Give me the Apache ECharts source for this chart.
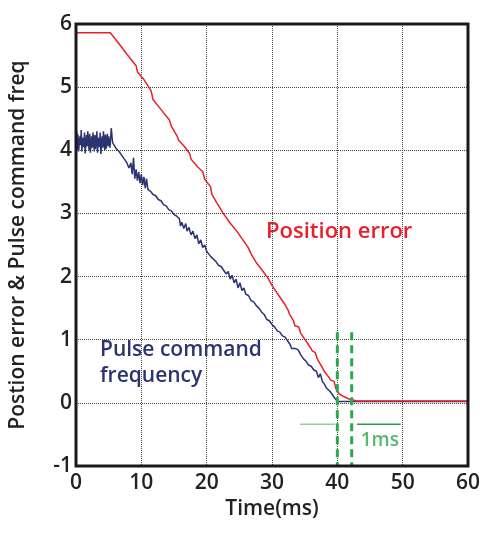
<!DOCTYPE html>
<html><head><meta charset="utf-8">
<script src="https://cdn.jsdelivr.net/npm/echarts@6/dist/echarts.min.js"></script>
<style>html,body{margin:0;padding:0;background:#fff}#c{width:483px;height:542px}</style>
</head><body><div id="c"></div>
<script>
var xTicks = [0, 10, 20, 30, 40, 50, 60];
var yTicks = [-1, 0, 1, 2, 3, 4, 5, 6];
var positionError = [
  [0,5.86],[5.25,5.86],[6.5,5.70],[7.8,5.52],[9.2,5.34],[9.4,5.24],[10.4,5.12],[11.5,4.94],[11.8,4.80],
  [12.9,4.66],[14.3,4.48],[14.6,4.38],[15.5,4.22],[15.7,4.16],[16.6,4.06],[17.4,3.95],[17.6,3.86],
  [18.6,3.74],[19.4,3.66],[19.7,3.54],[20.6,3.42],[20.8,3.30],[21.6,3.16],[22.2,3.06],[22.4,3.02],
  [23.5,2.86],[24.6,2.72],[25.4,2.60],[26.3,2.47],[26.9,2.34],[27.6,2.22],[28.5,2.10],[29.3,1.99],
  [30.0,1.86],[30.9,1.72],[31.9,1.57],[32.5,1.46],[32.7,1.40],[33.3,1.30],[33.5,1.22],[34.1,1.20],
  [34.4,1.10],[35.0,1.01],[35.6,0.92],[36.2,0.82],[36.6,0.80],[37.0,0.68],[37.6,0.58],[38.0,0.50],
  [38.6,0.42],[39.0,0.36],[39.5,0.34],[39.8,0.22],[40.3,0.14],[41.0,0.10],[41.8,0.06],[43.0,0.03],[60,0.03]
];
var pulseFreq = [
  [0,4.12],[0.1,4.30],[0.2,4.00],[0.3,4.25],[0.4,3.98],[0.6,4.22],[0.7,4.08],[0.8,4.32],[0.9,3.98],[1.0,4.20],
  [1.2,4.05],[1.3,4.28],[1.4,3.95],[1.6,4.24],[1.7,4.06],[1.8,4.30],[2.0,4.00],[2.1,4.26],[2.2,3.96],[2.4,4.22],
  [2.5,4.04],[2.6,4.28],[2.8,3.98],[2.9,4.24],[3.0,4.02],[3.2,4.30],[3.3,3.96],[3.4,4.20],[3.6,4.05],[3.7,4.28],
  [3.8,3.94],[4.0,4.22],[4.1,4.04],[4.2,4.30],[4.4,4.00],[4.5,4.25],[4.6,4.02],[4.8,4.26],[4.9,4.06],[5.0,4.22],
  [5.2,4.04],[5.4,4.35],[5.6,4.12],
  [5.8,4.10],[6.2,4.02],[6.6,3.98],[7.0,3.92],[7.4,3.86],[7.8,3.80],[8.1,3.72],[8.4,3.80],[8.6,3.62],[8.8,3.88],
  [9.0,3.55],[9.2,3.70],[9.4,3.52],[9.6,3.66],[9.8,3.48],[10.0,3.62],[10.2,3.45],[10.4,3.58],[10.6,3.40],[10.8,3.55],
  [11.0,3.38],[11.4,3.35],[11.8,3.30],[12.2,3.28],[12.6,3.22],[13.0,3.20],[13.4,3.14],[13.8,3.12],[14.2,3.06],
  [14.6,3.04],[15.0,2.98],[15.4,2.96],[15.8,2.92],[16.0,2.80],[16.2,2.86],[16.5,2.76],[16.8,2.84],[17.0,2.72],
  [17.3,2.78],[17.6,2.66],[17.9,2.72],[18.2,2.60],[18.5,2.66],[18.8,2.52],[19.1,2.58],[19.4,2.46],[19.7,2.50],
  [20.0,2.40],[20.3,2.36],[20.6,2.32],[21.0,2.28],[21.4,2.24],[21.8,2.18],[22.2,2.16],[22.6,2.10],[23.0,2.04],
  [23.3,2.08],[23.6,1.96],[23.9,2.02],[24.2,1.90],[24.5,1.96],[24.8,1.82],[25.1,1.90],[25.4,1.78],[25.7,1.82],
  [26.0,1.72],[26.4,1.70],[26.8,1.62],[27.2,1.60],[27.6,1.54],[28.0,1.50],[28.4,1.44],[28.8,1.40],[29.2,1.32],
  [29.6,1.30],[30.0,1.24],[30.4,1.20],[30.8,1.14],[31.2,1.12],[31.6,1.06],[32.0,1.04],[32.4,0.98],[32.8,0.92],
  [33.0,0.86],[33.6,0.86],[34.0,0.84],[34.4,0.76],[34.8,0.70],[35.2,0.66],[35.6,0.60],[36.0,0.58],[36.4,0.52],
  [36.8,0.50],[37.1,0.40],[37.4,0.46],[37.7,0.34],[38.0,0.30],[38.3,0.24],[38.6,0.26],[38.9,0.18],[39.3,0.12],
  [39.7,0.06],[40.1,0.02],[60,0.02]
];
var markerA = [[40,1.12],[40,-1]];
var markerB = [[42.2,1.12],[42.2,-1]];
var spanLeft = [[34.3,-0.34],[39.7,-0.34]];
var spanRight = [[43.0,-0.34],[49.7,-0.34]];
var spanLabel = [[46.5,-0.6]];

var FONT = '"Open Sans", "Noto Sans", sans-serif';
var chart = echarts.init(document.getElementById('c'), null, {renderer:'canvas'});
function seg(data, color, w, type){
  return {type:'line', data:data, symbol:'none', silent:true, z:4,
    lineStyle:{color:color, width:w, type:type}};
}
chart.setOption({
  animation:false,
  backgroundColor:'#fff',
  grid:{left:75, right:15, top:24, bottom:76, show:true, borderColor:'#1a1a1a', borderWidth:3, backgroundColor:'transparent', z:10},
  xAxis:{type:'value', min:0, max:60, interval:10,
    name:'Time(ms)', nameLocation:'middle', nameGap:32,
    nameTextStyle:{fontFamily:FONT, fontSize:21, fontWeight:600, color:'#222'},
    axisLine:{show:false}, axisTick:{show:false},
    axisLabel:{fontFamily:FONT, fontSize:21, fontWeight:600, color:'#222', margin:7,
      formatter:function(v){return xTicks.indexOf(v)>=0 ? String(v) : '';}},
    splitLine:{show:true, lineStyle:{type:'dotted', color:'#444', width:1}}},
  yAxis:{type:'value', min:-1, max:6, interval:1,
    name:'Postion error & Pulse command freq', nameLocation:'middle', nameGap:47,
    nameTextStyle:{fontFamily:FONT, fontSize:21, fontWeight:600, color:'#222'},
    axisLine:{show:false}, axisTick:{show:false},
    axisLabel:{fontFamily:FONT, fontSize:21, fontWeight:600, color:'#222', margin:4, padding:[0,0,12,0],
      formatter:function(v){return yTicks.indexOf(v)>=0 ? String(v) : '';}},
    splitLine:{show:true, lineStyle:{type:'dotted', color:'#444', width:1}}},
  graphic:[
    {type:'text', left:266, top:221, style:{text:'Position error', fill:'#e8202a', font:'600 22px '+FONT}},
    {type:'text', left:100, top:337, style:{text:'Pulse command\nfrequency', fill:'#2b3370', font:'600 21px '+FONT, lineHeight:26}}
  ],
  series:[
    {name:'Pulse command frequency', type:'line', data:pulseFreq, symbol:'none', z:3,
      lineStyle:{color:'#2b3370', width:1.5}},
    {name:'Position error', type:'line', data:positionError, symbol:'none', z:3,
      lineStyle:{color:'#e8202a', width:1.5}},
    seg(markerA, '#2aa84a', 3, [8,5]),
    seg(markerB, '#2aa84a', 3, [8,5]),
    seg(spanLeft, '#8fd19e', 1.5, 'solid'),
    seg(spanRight, '#2a9d45', 1.5, 'solid'),
    {type:'scatter', data:spanLabel, symbolSize:0, silent:true, z:5,
      label:{show:true, position:'inside', formatter:'1ms', color:'#2aa84a', fontFamily:FONT, fontSize:19, fontWeight:600}}
  ]
});
</script></body></html>
